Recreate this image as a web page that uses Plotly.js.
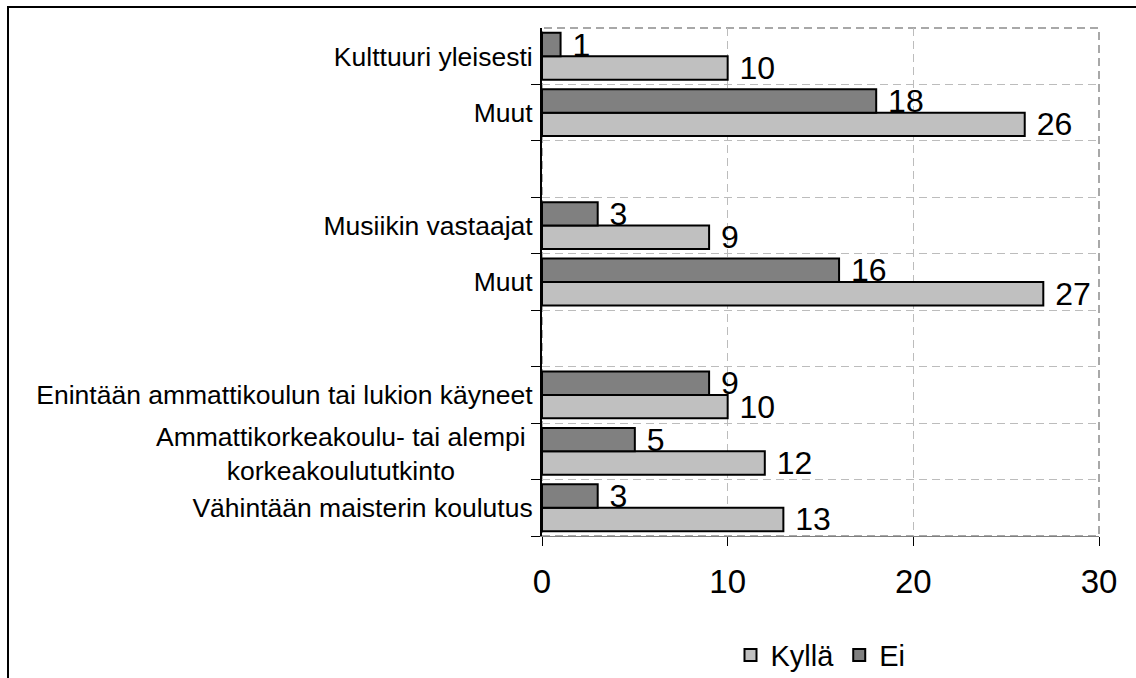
<!DOCTYPE html>
<html>
<head>
<meta charset="utf-8">
<script src="https://cdn.plot.ly/plotly-3.0.1.min.js"></script>
<style>html,body{margin:0;padding:0;background:#fff;}#chart{width:1136px;height:678px;}</style>
</head>
<body>
<div id="chart"></div>
<script>
// Categories listed top to bottom ('' = empty spacer row)
const categories = [
  'Kulttuuri yleisesti',
  'Muut',
  '',
  'Musiikin vastaajat',
  'Muut',
  '',
  'Enintään ammattikoulun tai lukion käyneet',
  'Ammattikorkeakoulu- tai alempi<br>korkeakoulututkinto',
  'Vähintään maisterin koulutus'
];
const kylla = [10, 26, null, 9, 27, null, 10, 12, 13];
const ei    = [1, 18, null, 3, 16, null, 9, 5, 3];
const seriesNames = ['Kyllä', 'Ei'];
const xTicks = [0, 10, 20, 30];

const keys = categories.map((c, i) => 'row' + i);
const FONT = 'Liberation Sans, Arial, sans-serif';
const LABEL_SIZE = 26.5;

// multi-line category labels are drawn as centred annotations, the rest as tick labels
const isMulti = categories.map(c => c.indexOf('<br>') >= 0);
const tickText = categories.map((c, i) => isMulti[i] ? '' : c);

function barTrace(name, vals, fill) {
  return {
    type: 'bar', orientation: 'h', name: name,
    y: keys, x: vals,
    text: vals.map(v => v === null ? '' : '\u00A0' + String(v)),
    textposition: 'outside', constraintext: 'none', cliponaxis: false,
    textfont: {family: FONT, size: 32, color: '#000'},
    marker: {color: fill, line: {color: '#000', width: 2}},
    hoverinfo: 'skip'
  };
}

const traces = [
  barTrace(seriesNames[0], kylla, '#c0c0c0'),
  barTrace(seriesNames[1], ei, '#808080')
];

const annotations = [];
categories.forEach((c, i) => {
  if (isMulti[i]) {
    annotations.push({
      text: c, xref: 'paper', yref: 'y', x: -0.025, y: keys[i],
      xanchor: 'right', yanchor: 'middle', align: 'center', showarrow: false,
      yshift: -3,
      font: {family: FONT, size: LABEL_SIZE, color: '#000'}
    });
  }
});

const layout = {
  width: 1136, height: 678,
  margin: {l: 542, r: 37, t: 28, b: 142, pad: 0, autoexpand: false},
  paper_bgcolor: '#fff', plot_bgcolor: '#fff',
  font: {family: FONT, color: '#000'},
  barmode: 'group', bargap: 0.17, bargroupgap: 0,
  showlegend: true,
  legend: {orientation: 'h', x: 0.5, xanchor: 'center', y: -0.2344, yanchor: 'middle',
           font: {family: FONT, size: 29, color: '#000'}, bgcolor: 'rgba(0,0,0,0)'},
  xaxis: {
    range: [0, 30], tickmode: 'array', tickvals: xTicks, ticktext: xTicks.map(String),
    showgrid: true, gridcolor: '#bcbcbc', gridwidth: 1, griddash: '8px,5px',
    zeroline: false, showline: true, linecolor: '#808080', linewidth: 1,
    ticks: 'outside', ticklen: 9, tickcolor: '#000', tickwidth: 1,
    tickfont: {family: FONT, size: 33, color: '#000'}, ticklabelstandoff: 7,
    automargin: false, fixedrange: true
  },
  yaxis: {
    type: 'category', categoryorder: 'array', categoryarray: keys.slice().reverse(),
    range: [-0.5, keys.length - 0.5],
    tickmode: 'array', tickvals: keys, ticktext: tickText,
    tickson: 'boundaries',
    showgrid: true, gridcolor: '#bcbcbc', gridwidth: 1, griddash: '8px,5px',
    zeroline: false, showline: true, linecolor: '#000', linewidth: 2,
    ticks: 'outside', ticklen: 9, tickcolor: '#000', tickwidth: 1,
    tickfont: {family: FONT, size: LABEL_SIZE, color: '#000'}, ticklabelstandoff: 2,
    automargin: false, fixedrange: true
  },
  annotations: annotations,
  shapes: [
    {type: 'rect', xref: 'paper', yref: 'paper', x0: 0, x1: 1, y0: 0, y1: 1,
     line: {color: '#a8a8a8', width: 2, dash: '8px,5px'}, layer: 'below'},
    {type: 'path', xref: 'paper', yref: 'paper',
     path: 'M -0.9587,-0.35 L -0.9587,1.0413 L 1.2,1.0413',
     line: {color: '#000', width: 2}}
  ]
};

Plotly.newPlot('chart', traces, layout, {staticPlot: true, displayModeBar: false});
</script>
</body>
</html>
